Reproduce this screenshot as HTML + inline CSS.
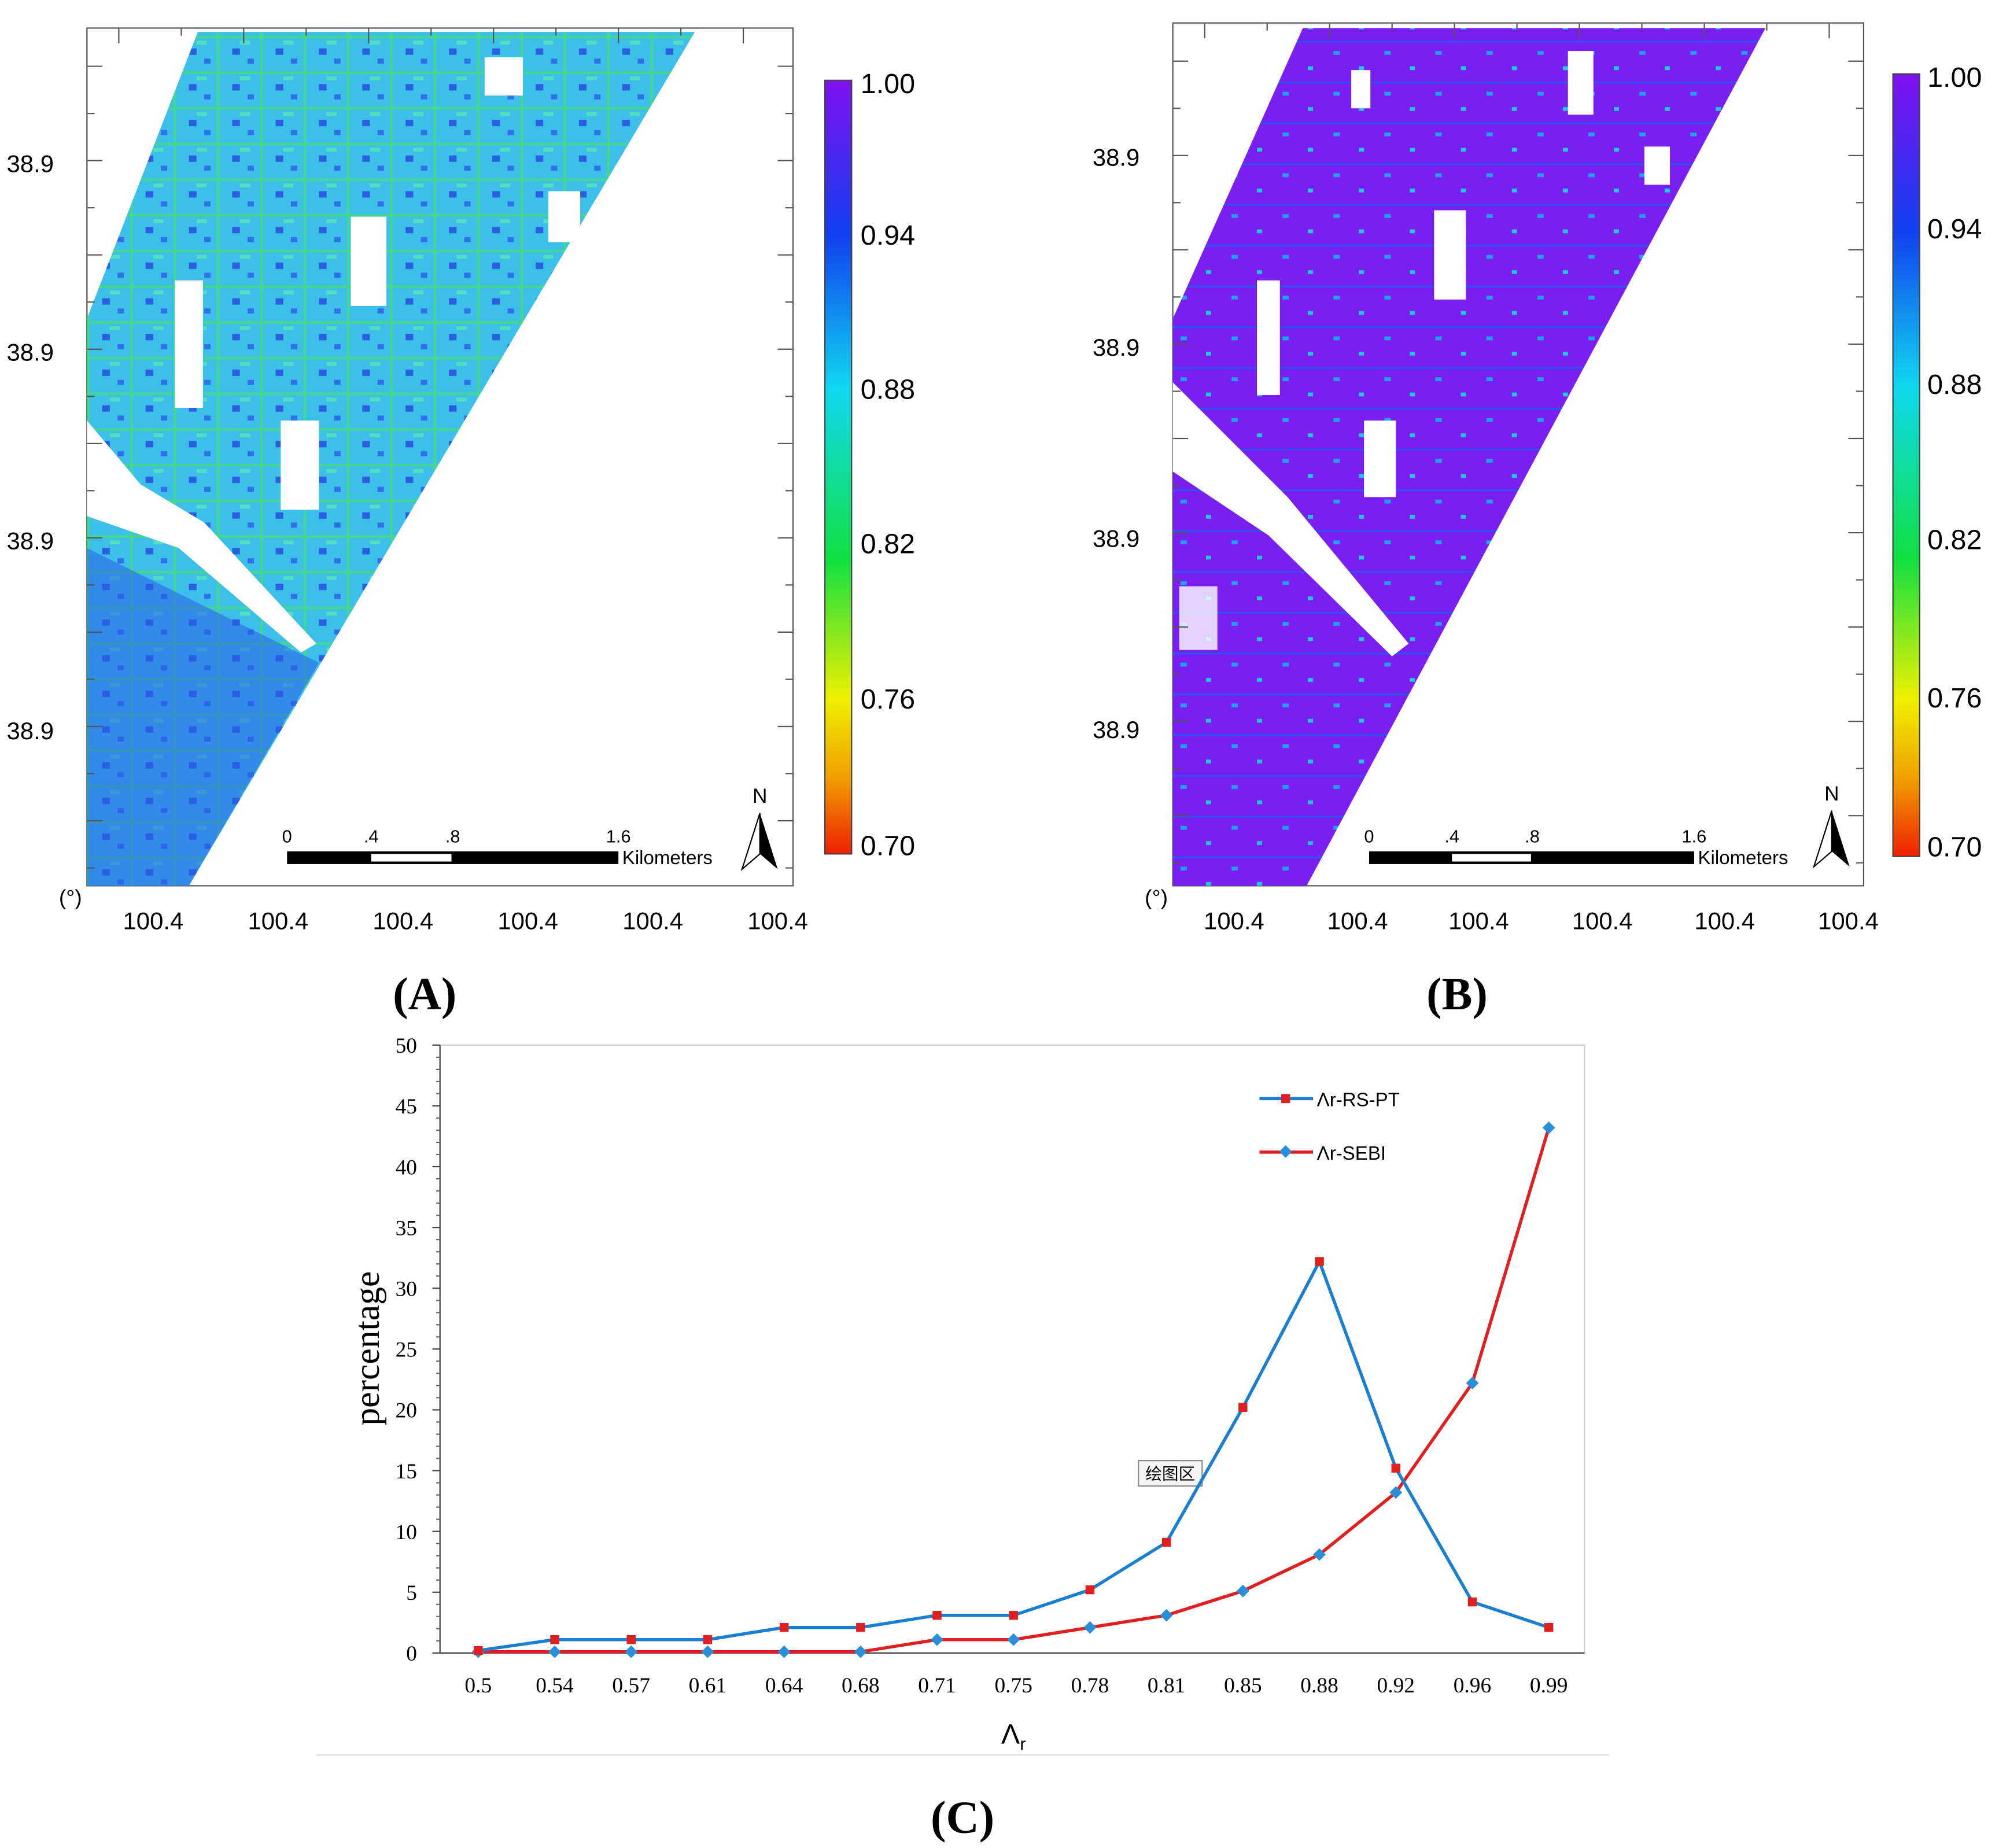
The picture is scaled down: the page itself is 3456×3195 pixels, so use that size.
<!DOCTYPE html>
<html><head><meta charset="utf-8"><style>
html,body{margin:0;padding:0;background:#fff;}
svg{display:block;font-family:"Liberation Sans",sans-serif;}
.s{font-family:"Liberation Serif",serif;}
</style></head><body>
<svg id="root" width="3456" height="3195" viewBox="0 0 1568 1450" xmlns="http://www.w3.org/2000/svg">
<defs>
<linearGradient id="cb" x1="0" y1="0" x2="0" y2="1">
<stop offset="0" stop-color="#8010f0"/><stop offset="0.2" stop-color="#1040f0"/><stop offset="0.4" stop-color="#10d8f0"/><stop offset="0.62" stop-color="#10e040"/><stop offset="0.8" stop-color="#f0f000"/><stop offset="0.9" stop-color="#f0a000"/><stop offset="1" stop-color="#f02000"/>
</linearGradient>
<pattern id="pa" width="34" height="28" patternUnits="userSpaceOnUse">
<rect width="34" height="28" fill="#3cc0ea"/>
<rect x="0" y="0" width="34" height="2" fill="#40d890"/>
<rect x="0" y="0" width="2" height="28" fill="#40d890"/>
<rect x="12" y="10" width="6" height="5" fill="#2a60e0"/>
<rect x="24" y="18" width="5" height="4" fill="#3070e8"/>
<rect x="18" y="4" width="8" height="3" fill="#50e0c0"/>
</pattern>
<pattern id="pb" width="40" height="32" patternUnits="userSpaceOnUse">
<rect width="40" height="32" fill="#7a1ff2"/>
<rect x="6" y="8" width="5" height="3" fill="#20a0f0"/>
<rect x="26" y="20" width="4" height="3" fill="#20c8e0"/>
<rect x="0" y="0" width="40" height="1.5" fill="#3050f0"/>
</pattern>
</defs>

<g>
<rect x="68" y="22" width="554" height="673" fill="none" stroke="#555"/>
<polygon points="68,250 155,25 545,25 148,695 68,695" fill="url(#pa)"/>
<polygon points="68,430 250,520 148,695 68,695" fill="#2a5ee8" opacity="0.55"/>
<polygon points="68,330 110,380 160,410 248,505 236,512 140,430 68,405" fill="#fff"/>
<rect x="137" y="220" width="22" height="100" fill="#fff"/><rect x="275" y="170" width="28" height="70" fill="#fff"/><rect x="220" y="330" width="30" height="70" fill="#fff"/><rect x="380" y="45" width="30" height="30" fill="#fff"/><rect x="430" y="150" width="25" height="40" fill="#fff"/>
<g id="ticksA"></g>
<text x="5" y="135" font-size="19">38.9</text>
<text x="5" y="283" font-size="19">38.9</text>
<text x="5" y="431" font-size="19">38.9</text>
<text x="5" y="580" font-size="19">38.9</text>
<text x="46" y="710" font-size="17">(°)</text>
<g font-size="19" text-anchor="middle"><text x="120" y="729">100.4</text><text x="218" y="729">100.4</text><text x="316" y="729">100.4</text><text x="414" y="729">100.4</text><text x="512" y="729">100.4</text><text x="610" y="729">100.4</text></g>
<rect x="647" y="63" width="21" height="607" fill="url(#cb)" stroke="#444"/>
<g font-size="22"><text x="675" y="73">1.00</text><text x="675" y="192">0.94</text><text x="675" y="313">0.88</text><text x="675" y="434">0.82</text><text x="675" y="556">0.76</text><text x="675" y="671">0.70</text></g>
<g><rect x="225" y="668" width="260" height="10" fill="#000"/><rect x="291" y="670" width="63" height="6" fill="#fff"/>
<g font-size="14" text-anchor="middle"><text x="225" y="661">0</text><text x="291" y="661">.4</text><text x="355" y="661">.8</text><text x="485" y="661">1.6</text></g>
<text x="488" y="678" font-size="15">Kilometers</text></g>
<g><text x="596" y="630" font-size="16" text-anchor="middle">N</text><polygon points="596,638 582,682 596,670" fill="#fff" stroke="#000"/><polygon points="596,638 610,682 596,670" fill="#000"/></g>
</g>

<g>
<rect x="920" y="18" width="542" height="677" fill="none" stroke="#555"/>
<polygon points="920,250 1022,22 1385,22 1025,695 920,695" fill="url(#pb)"/>
<polygon points="920,300 960,340 1010,390 1105,505 1092,515 995,420 920,370" fill="#fff"/>
<rect x="986" y="220" width="18" height="90" fill="#fff"/><rect x="1125" y="165" width="25" height="70" fill="#fff"/><rect x="1070" y="330" width="25" height="60" fill="#fff"/><rect x="1230" y="40" width="20" height="50" fill="#fff"/><rect x="1060" y="55" width="15" height="30" fill="#fff"/><rect x="1290" y="115" width="20" height="30" fill="#fff"/>
<rect x="925" y="460" width="30" height="50" fill="#fff" opacity="0.8"/>
<g id="ticksB"></g>
<text x="857" y="130" font-size="19">38.9</text><text x="857" y="279" font-size="19">38.9</text><text x="857" y="429" font-size="19">38.9</text><text x="857" y="579" font-size="19">38.9</text>
<text x="898" y="710" font-size="17">(°)</text>
<g font-size="19" text-anchor="middle"><text x="968" y="729">100.4</text><text x="1065" y="729">100.4</text><text x="1160" y="729">100.4</text><text x="1257" y="729">100.4</text><text x="1353" y="729">100.4</text><text x="1450" y="729">100.4</text></g>
<rect x="1485" y="58" width="21" height="614" fill="url(#cb)" stroke="#444"/>
<g font-size="22"><text x="1512" y="68">1.00</text><text x="1512" y="187">0.94</text><text x="1512" y="309">0.88</text><text x="1512" y="431">0.82</text><text x="1512" y="555">0.76</text><text x="1512" y="672">0.70</text></g>
<g><rect x="1074" y="668" width="255" height="10" fill="#000"/><rect x="1139" y="670" width="62" height="6" fill="#fff"/>
<g font-size="14" text-anchor="middle"><text x="1074" y="661">0</text><text x="1139" y="661">.4</text><text x="1202" y="661">.8</text><text x="1329" y="661">1.6</text></g>
<text x="1332" y="678" font-size="15">Kilometers</text></g>
<g><text x="1437" y="628" font-size="16" text-anchor="middle">N</text><polygon points="1437,636 1423,680 1437,668" fill="#fff" stroke="#000"/><polygon points="1437,636 1451,680 1437,668" fill="#000"/></g>
</g>

<g class="s" font-size="36" font-weight="bold" text-anchor="middle">
<text x="333" y="792">(A)</text>
<text x="1143" y="792">(B)</text>
<text x="755" y="1438">(C)</text>
</g>

<g id="chart">
<rect x="345" y="820" width="898" height="477" fill="none" stroke="#ccc"/>
<line x1="248" y1="1377" x2="1262" y2="1377" stroke="#ddd"/>
<text x="795" y="1368" font-size="22" text-anchor="middle">Λ<tspan font-size="14" dy="5">r</tspan></text>
<text class="s" x="0" y="0" font-size="28" text-anchor="middle" transform="translate(297,1058) rotate(-90)">percentage</text>
<g>
<line x1="988" y1="862" x2="1030" y2="862" stroke="#1a7fd0" stroke-width="2.5"/><rect x="1005" y="858.5" width="7" height="7" fill="#e02020"/>
<text x="1033" y="868" font-size="15">Λr-RS-PT</text>
<line x1="988" y1="904" x2="1030" y2="904" stroke="#e02020" stroke-width="2.5"/><rect x="1005" y="900" width="7" height="7" fill="#2a8fd8" transform="rotate(45 1008.5 903.5)"/>
<text x="1033" y="910" font-size="15">Λr-SEBI</text>
</g>
<g><rect x="893" y="1146" width="50" height="20" fill="#f4f4f4" stroke="#888"/><text x="918" y="1161" font-size="13" text-anchor="middle" font-family="Noto Sans CJK SC,sans-serif">绘图区</text></g>
</g>
</svg>
<script>
const categories=["0.5","0.54","0.57","0.61","0.64","0.68","0.71","0.75","0.78","0.81","0.85","0.88","0.92","0.96","0.99"];
const rsptValues=[0.2,1.1,1.1,1.1,2.1,2.1,3.1,3.1,5.2,9.1,20.2,32.2,15.2,4.2,2.1];
const sebiValues=[0.1,0.1,0.1,0.1,0.1,0.1,1.1,1.1,2.1,3.1,5.1,8.1,13.2,22.2,43.2];
const yTicks=[0,5,10,15,20,25,30,35,40,45,50];
const NS="http://www.w3.org/2000/svg";
const chart=document.getElementById('chart');
const xS=i=>375+i*60;
const yS=v=>1297-v*(477/50);
function mk(t,a,p){const e=document.createElementNS(NS,t);for(const k in a)e.setAttribute(k,a[k]);(p||chart).appendChild(e);return e;}
mk('line',{x1:345,y1:820,x2:345,y2:1297,stroke:'#444'});
mk('line',{x1:345,y1:1297,x2:1243,y2:1297,stroke:'#444'});
yTicks.forEach(v=>{const t=mk('text',{x:327,y:yS(v)+6,'font-size':17,'text-anchor':'end','class':'s'});t.textContent=v;


mk('line',{x1:339,y1:yS(v),x2:345,y2:yS(v),stroke:'#444'});});
for(let v=1;v<50;v++){if(v%5)mk('line',{x1:342,y1:yS(v),x2:345,y2:yS(v),stroke:'#666'});}
categories.forEach((c,i)=>{const t=mk('text',{x:xS(i),y:1328,'font-size':17,'text-anchor':'middle','class':'s'});t.textContent=c;

});
function series(vals,col,mcol,diamond,name){
const p=mk('polyline',{points:vals.map((v,i)=>xS(i)+','+yS(v)).join(' '),fill:'none',stroke:col,'stroke-width':2.5});


vals.forEach((v,i)=>{const r=mk('rect',{x:xS(i)-3.5,y:yS(v)-3.5,width:7,height:7,fill:mcol});
if(diamond)r.setAttribute('transform','rotate(45 '+xS(i)+' '+yS(v)+')');

});}
series(sebiValues,'#e02020','#2a8fd8',true,'sebi');
series(rsptValues,'#1a7fd0','#e02020',false,'rs-pt');
function ticks(id,x0,x1,y0,y1){const g=document.getElementById(id);
for(let x=x0+25;x<x1;x+=49){mk('line',{x1:x,y1:y0,x2:x,y2:y0+(((x-x0-25)/49)%2?6:12),stroke:'#555'},g);}
for(let y=y0+30;y<y1;y+=37){mk('line',{x1:x1,y1:y,x2:x1-(Math.round((y-y0-30)/37)%2?6:12),y2:y,stroke:'#555'},g);
mk('line',{x1:x0,y1:y,x2:x0+(Math.round((y-y0-30)/37)%2?6:12),y2:y,stroke:'#555'},g);}}
ticks('ticksA',68,622,22,695);ticks('ticksB',920,1462,18,695);
</script>
</body></html>
